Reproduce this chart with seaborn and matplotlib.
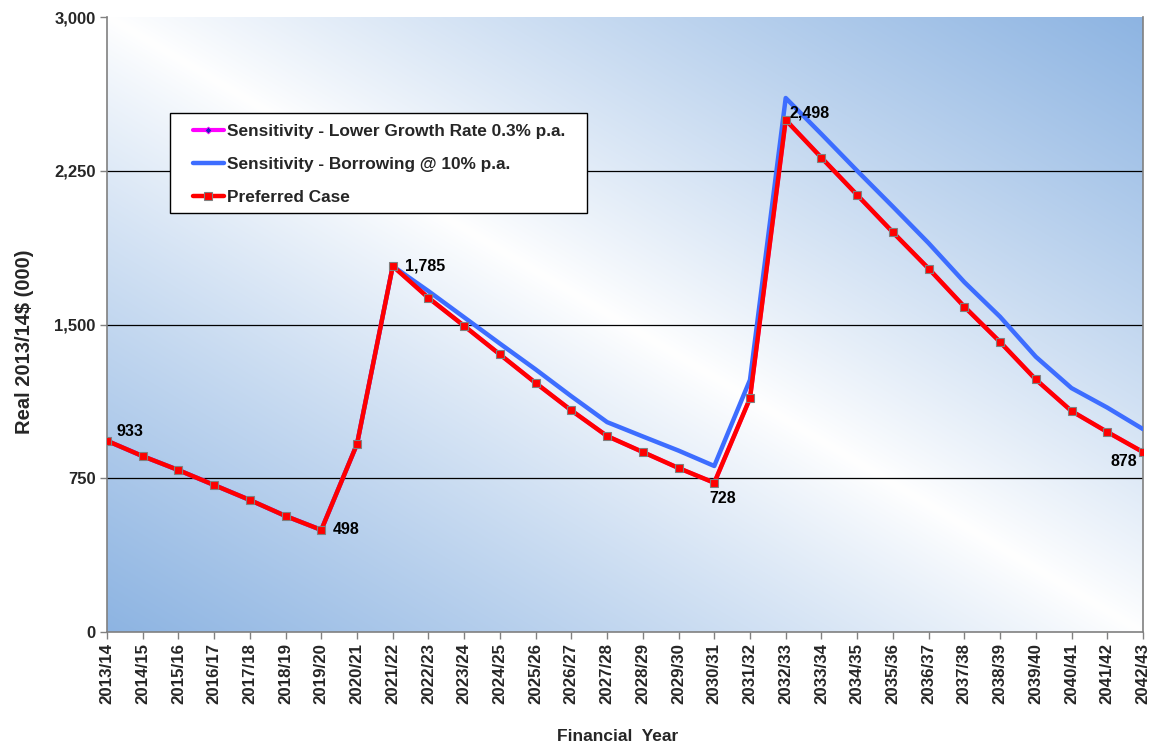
import numpy as np
import pandas as pd
import matplotlib
matplotlib.use("Agg")
import matplotlib.pyplot as plt
import seaborn as sns
from matplotlib.ticker import FuncFormatter
from matplotlib.patches import Rectangle

# Financial years shown on the x axis
years = ["2013/14", "2014/15", "2015/16", "2016/17", "2017/18", "2018/19", "2019/20",
         "2020/21", "2021/22", "2022/23", "2023/24", "2024/25", "2025/26", "2026/27",
         "2027/28", "2028/29", "2029/30", "2030/31", "2031/32", "2032/33", "2033/34",
         "2034/35", "2035/36", "2036/37", "2037/38", "2038/39", "2039/40", "2040/41",
         "2041/42", "2042/43"]

# Real 2013/14$ (000)
preferred = [933, 858, 790, 717, 644, 566, 498, 917, 1785, 1630, 1493, 1354, 1215, 1081,
             956, 878, 800, 728, 1140, 2498, 2314, 2132, 1950, 1773, 1587, 1415, 1232,
             1078, 976, 878]
borrowing = [933, 858, 790, 717, 644, 566, 498, 917, 1785, 1663, 1535, 1407, 1281, 1150,
             1024, 954, 885, 810, 1230, 2605, 2429, 2250, 2075, 1897, 1707, 1538, 1343,
             1190, 1095, 990]
lower_growth = [933, 858, 790, 717, 644, 566, 498, 917, 1785, 1630, 1493, 1354, 1215, 1081,
                956, 878, 800, 728, 1140, 2498, 2314, 2132, 1950, 1773, 1587, 1415, 1232,
                1078, 976, 878]

series_names = ["Sensitivity - Lower Growth Rate 0.3% p.a.",
                "Sensitivity - Borrowing @ 10% p.a.",
                "Preferred Case"]

# (index, value, offset in points, ha, va) for the value callouts
callouts = [(0, 933, (7, 7), "left", "center"),
            (6, 498, (8, 0), "left", "center"),
            (8, 1785, (9, 0), "left", "center"),
            (17, 728, (6, -11), "center", "center"),
            (19, 2498, (3, 5), "left", "center"),
            (29, 878, (-4, -7), "right", "center")]

sns.set_style("white")
plt.rcParams["font.family"] = ["Liberation Sans", "DejaVu Sans"]
plt.rcParams["font.weight"] = "bold"

df = pd.DataFrame({"idx": np.arange(len(years)),
                   "lower": lower_growth, "borrow": borrowing, "pref": preferred})

fig = plt.figure(figsize=(11.6, 7.47), dpi=100)
ax = fig.add_axes([0.0922, 0.1539, 0.8931, 0.8233])

# diagonal two-sided gradient background: blue corners, white band
n = 400
u = np.linspace(0, 1, n)
v = np.linspace(0, 1, n)
U, V = np.meshgrid(u, v)
w = np.abs(U + V - 1.0)
w = np.clip(w, 0, 1) ** 0.9
blue = np.array([141, 180, 226]) / 255.0
white = np.array([1.0, 1.0, 1.0])
img = white[None, None, :] * (1 - w[..., None]) + blue[None, None, :] * w[..., None]
ax.imshow(img, extent=[0, len(years) - 1, 0, 3000], origin="lower",
          aspect="auto", zorder=0, interpolation="bilinear")

sns.lineplot(data=df, x="idx", y="lower", ax=ax, color="#FF00FF", linewidth=3,
             marker="D", markersize=3.5, markerfacecolor="#2020C0",
             markeredgecolor="#FF00FF", markeredgewidth=0.6,
             label=series_names[0], zorder=3)
sns.lineplot(data=df, x="idx", y="borrow", ax=ax, color="#3D6DFF", linewidth=3.2,
             label=series_names[1], zorder=4)
sns.lineplot(data=df, x="idx", y="pref", ax=ax, color="#FF0000", linewidth=3.2,
             marker="s", markersize=5.5, markerfacecolor="#FF0000",
             markeredgecolor="#808080", markeredgewidth=0.8,
             label=series_names[2], zorder=5)

for i, val, off, ha, va in callouts:
    ax.annotate(f"{val:,}", xy=(i, val), xytext=off, textcoords="offset points",
                ha=ha, va=va, fontsize=11.5, fontweight="bold", color="black", zorder=6)

ax.set_xlim(0, len(years) - 1)
ax.set_ylim(0, 3000)
ax.set_xticks(np.arange(len(years)))
ax.set_xticklabels(years, rotation=90, fontsize=12.2, fontweight="bold")
ax.set_yticks([0, 750, 1500, 2250, 3000])
ax.yaxis.set_major_formatter(FuncFormatter(lambda y, p: f"{int(y):,}"))
for lab in ax.get_yticklabels():
    lab.set_fontsize(12)
    lab.set_fontweight("bold")

ax.tick_params(axis="both", direction="out", length=5, width=1, color="#808080",
               pad=3, bottom=True, left=True)
ax.grid(False)
for y in [750, 1500, 2250]:
    ax.axhline(y, color="black", linewidth=0.9, zorder=1)

for side in ["left", "bottom", "right", "top"]:
    ax.spines[side].set_color("#808080")
    ax.spines[side].set_linewidth(1.2)
ax.spines["top"].set_visible(False)

ax.set_xlabel("Financial  Year", fontsize=12.5, fontweight="bold")
ax.set_ylabel("Real 2013/14$ (000)", fontsize=14.5, fontweight="bold")
ax.xaxis.set_label_coords(0.4932, -0.158)
ax.yaxis.set_label_coords(-0.0704, 0.4724)

# legend box drawn as a separate frame, entries placed inside it
ax.add_patch(Rectangle((0.0608, 0.6813), 0.4025, 0.1626, transform=ax.transAxes,
                       facecolor="white", edgecolor="black", linewidth=1.0,
                       zorder=7, clip_on=False))
leg = ax.legend(loc="upper left", bbox_to_anchor=(0.083, 0.826), frameon=False,
                fontsize=12.4, handlelength=1.8, handletextpad=0.15,
                labelspacing=1.05, borderpad=0, borderaxespad=0)
leg.set_zorder(8)
for t in leg.get_texts():
    t.set_fontweight("bold")

fig.savefig("out.png", dpi=100)
